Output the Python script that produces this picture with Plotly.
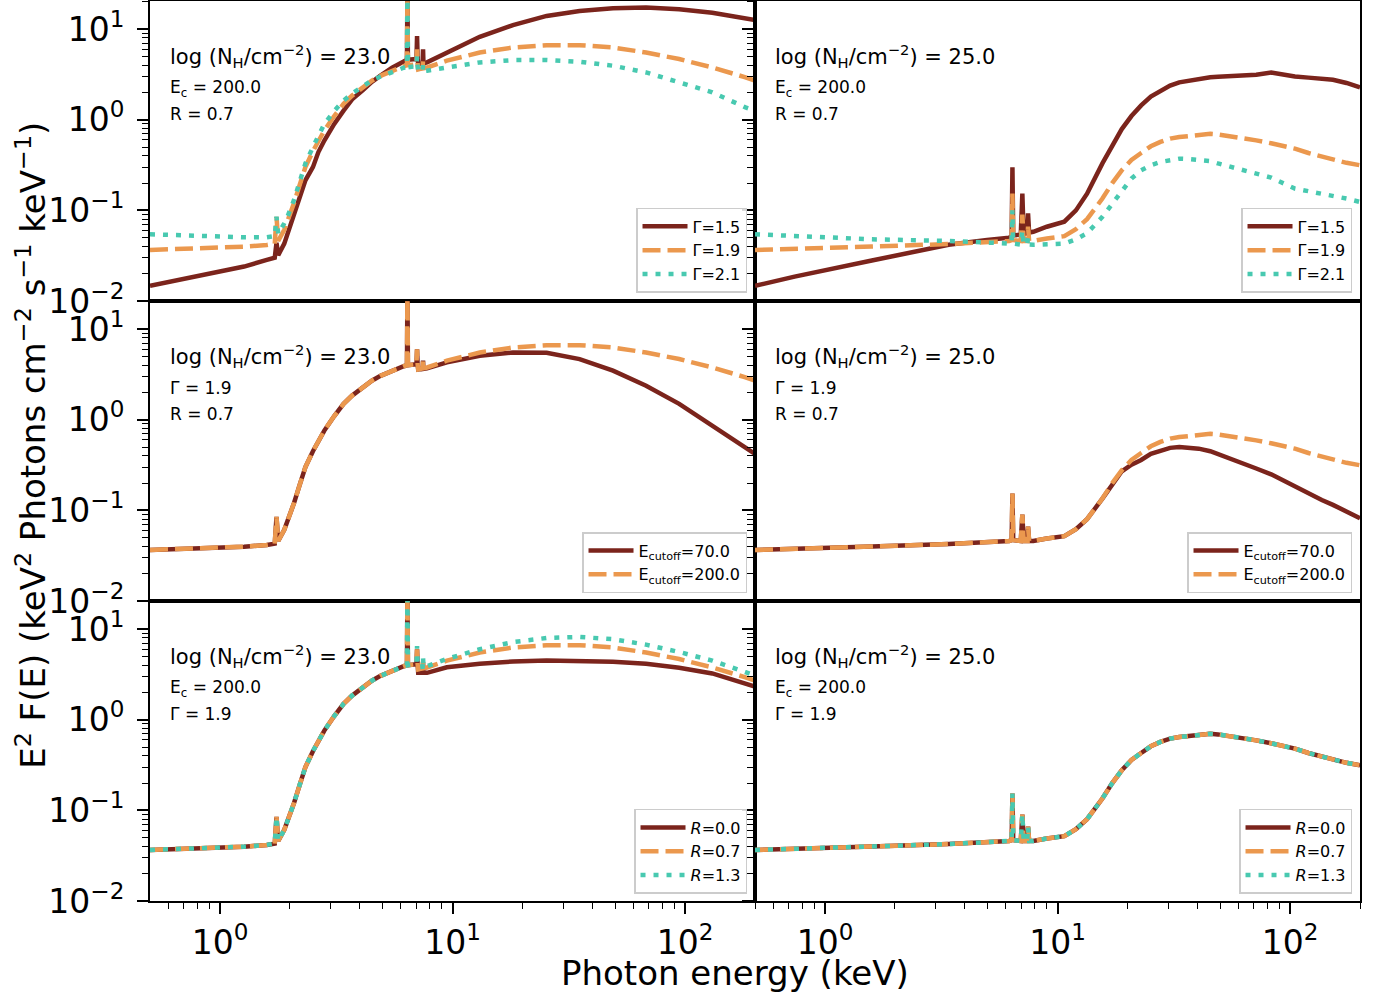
import plotly.graph_objects as go
from plotly.subplots import make_subplots

# ---------------- data ----------------
# energy grid for log(NH)=23 spectra (keV)
E23 = [0.5, 0.8, 1.27, 1.59, 1.72, 1.75, 1.78, 1.89, 1.95, 2.08, 2.2, 2.33, 2.51, 2.65, 2.81, 3.1, 3.4, 3.7,
       4.12, 4.5, 4.9, 5.5, 6.17, 6.37, 6.4, 6.43, 7.0, 7.04, 7.08, 7.12, 7.44, 7.47, 7.5, 7.77, 9.46,
       13.1, 18.2, 25.4, 35.2, 49, 68, 94.4, 131, 182, 200]

G15_23 = [0.0147, 0.019, 0.024, 0.0284, 0.030, 0.044, 0.032, 0.043, 0.055, 0.093, 0.14, 0.215, 0.30, 0.44, 0.59, 0.90, 1.26, 1.68,
          2.13, 2.62, 3.07, 3.75, 4.4, 4.6, 30, 4.6, 4.7, 8.4, 4.8, 4.1, 4.2, 6.0, 4.2, 4.3, 5.53,
          8.23, 11.1, 14.0, 15.9, 17.0, 17.3, 16.6, 15.2, 13.4, 12.6]
G19_23 = [0.0366, 0.038, 0.0398, 0.0416, 0.043, 0.085, 0.046, 0.061, 0.075, 0.12, 0.19, 0.30, 0.45, 0.58, 0.76, 1.1, 1.50, 1.85,
          2.32, 2.7, 3.05, 3.5, 3.9, 4.0, 30, 4.0, 4.1, 6.0, 4.1, 3.6, 3.7, 4.6, 3.7, 3.78, 4.49,
          5.53, 6.28, 6.66, 6.66, 6.28, 5.53, 4.68, 3.78, 2.94, 2.70]
G21_23 = [0.0545, 0.052, 0.0505, 0.0505, 0.052, 0.085, 0.055, 0.072, 0.085, 0.13, 0.21, 0.33, 0.50, 0.68, 0.90, 1.25, 1.63, 1.95,
          2.38, 2.72, 3.0, 3.4, 3.75, 3.8, 35, 3.8, 3.9, 5.0, 3.9, 3.4, 3.45, 4.0, 3.45, 3.48, 3.78,
          4.3, 4.56, 4.56, 4.37, 3.95, 3.33, 2.59, 2.01, 1.37, 1.26]
EC70_23 = [0.0366, 0.038, 0.0398, 0.0416, 0.043, 0.085, 0.046, 0.061, 0.075, 0.12, 0.19, 0.30, 0.45, 0.58, 0.76, 1.1, 1.50, 1.85,
           2.32, 2.7, 3.05, 3.5, 3.9, 4.0, 30, 4.0, 4.1, 6.0, 4.1, 3.6, 3.65, 4.5, 3.65, 3.7, 4.3,
           5.09, 5.53, 5.5, 4.68, 3.48, 2.38, 1.5, 0.865, 0.50, 0.42]
R00_23 = [0.0366, 0.038, 0.0398, 0.0416, 0.043, 0.085, 0.046, 0.061, 0.075, 0.12, 0.19, 0.30, 0.45, 0.58, 0.76, 1.1, 1.50, 1.85,
          2.32, 2.7, 3.05, 3.5, 3.9, 4.0, 30, 4.0, 4.1, 6.0, 4.1, 3.3, 3.3, 4.3, 3.3, 3.3, 3.8,
          4.15, 4.4, 4.5, 4.49, 4.37, 4.15, 3.75, 3.25, 2.55, 2.32]
R13_23 = [0.0366, 0.038, 0.0398, 0.0416, 0.043, 0.085, 0.046, 0.061, 0.075, 0.12, 0.19, 0.30, 0.45, 0.58, 0.76, 1.1, 1.50, 1.85,
          2.32, 2.7, 3.05, 3.5, 3.9, 4.0, 35, 4.0, 4.2, 6.5, 4.2, 3.8, 3.85, 4.9, 3.85, 3.9, 4.7,
          6.0, 7.2, 8.0, 8.2, 7.76, 6.75, 5.6, 4.5, 3.35, 3.07]

# energy grid for log(NH)=25 spectra (keV)
E25 = [0.5, 0.74, 1.59, 3.4, 4.98, 6.2, 6.35, 6.4, 6.45, 6.95, 7.06, 7.15, 7.4, 7.47, 7.55, 7.87,
       9.0, 10.7, 12.0, 13.4, 15.6, 17.2, 18.9, 20.8, 22.9, 25.2, 27.7, 30.5, 33.4, 37, 40.5, 45.4, 49,
       60, 71.6, 83, 105, 120, 137, 153, 175, 200]

G15_25 = [0.0147, 0.0186, 0.028, 0.0417, 0.047, 0.050, 0.052, 0.30, 0.053, 0.054, 0.153, 0.055, 0.056, 0.093, 0.057, 0.058,
          0.066, 0.075, 0.10, 0.153, 0.33, 0.52, 0.79, 1.1, 1.44, 1.8, 2.10, 2.38, 2.59, 2.72, 2.8, 2.95, 2.99,
          3.08, 3.15, 3.33, 3.0, 2.92, 2.85, 2.76, 2.55, 2.28]
G19_25 = [0.0366, 0.0375, 0.040, 0.0425, 0.044, 0.046, 0.047, 0.153, 0.047, 0.046, 0.090, 0.046, 0.046, 0.066, 0.046, 0.046,
          0.049, 0.052, 0.062, 0.080, 0.135, 0.20, 0.277, 0.36, 0.43, 0.51, 0.57, 0.62, 0.645, 0.665, 0.68, 0.70, 0.69,
          0.64, 0.593, 0.55, 0.48, 0.43, 0.39, 0.36, 0.335, 0.315]
G21_25 = [0.0545, 0.052, 0.048, 0.046, 0.044, 0.043, 0.043, 0.10, 0.043, 0.042, 0.060, 0.042, 0.042, 0.050, 0.042, 0.0417,
          0.042, 0.043, 0.048, 0.056, 0.085, 0.12, 0.167, 0.225, 0.277, 0.315, 0.342, 0.36, 0.372, 0.368, 0.36, 0.35, 0.33,
          0.29, 0.255, 0.23, 0.174, 0.163, 0.155, 0.147, 0.135, 0.124]
EC70_25 = [0.0366, 0.0375, 0.040, 0.0425, 0.044, 0.046, 0.047, 0.153, 0.047, 0.046, 0.090, 0.046, 0.046, 0.066, 0.046, 0.046,
           0.049, 0.052, 0.062, 0.080, 0.135, 0.195, 0.27, 0.32, 0.36, 0.42, 0.46, 0.49, 0.50, 0.495, 0.48, 0.45, 0.42,
           0.35, 0.29, 0.25, 0.182, 0.155, 0.13, 0.115, 0.098, 0.082]
R00_25 = G19_25
R07_25 = G19_25
R13_25 = G19_25

GAMMA_LABELS = ["Γ=1.5", "Γ=1.9", "Γ=2.1"]
ECUT_LABELS = ["E<sub>cutoff</sub>=70.0", "E<sub>cutoff</sub>=200.0"]
R_LABELS = ["<i>R</i>=0.0", "<i>R</i>=0.7", "<i>R</i>=1.3"]
NH_TEXT = ["log (N<sub>H</sub>/cm<sup>−2</sup>) = 23.0", "log (N<sub>H</sub>/cm<sup>−2</sup>) = 25.0"]
ROW_PARAMS = [["E<sub>c</sub> = 200.0", "R = 0.7"],
              ["Γ = 1.9", "R = 0.7"],
              ["E<sub>c</sub> = 200.0", "Γ = 1.9"]]

Y_TICKS = [0.01, 0.1, 1, 10]
Y_TICKTEXT = ["10<sup>−2</sup>", "10<sup>−1</sup>", "10<sup>0</sup>", "10<sup>1</sup>"]
X_TICKS = [1, 10, 100]
X_TICKTEXT = ["10<sup>0</sup>", "10<sup>1</sup>", "10<sup>2</sup>"]

# ---------------- styles ----------------
C1, C2, C3 = "#7B241C", "#EB984E", "#48C9B0"
LW = 4.5
STY = [dict(color=C1, width=LW), dict(color=C2, width=LW, dash="18px,7px"),
       dict(color=C3, width=LW, dash="5px,8px")]
FONT = "DejaVu Sans"

fig = make_subplots(rows=3, cols=2, shared_xaxes=True, shared_yaxes=True,
                    horizontal_spacing=0, vertical_spacing=0)

panels = [
    (1, 1, E23, [G15_23, G19_23, G21_23], GAMMA_LABELS),
    (1, 2, E25, [G15_25, G19_25, G21_25], GAMMA_LABELS),
    (2, 1, E23, [EC70_23, G19_23], ECUT_LABELS),
    (2, 2, E25, [EC70_25, G19_25], ECUT_LABELS),
    (3, 1, E23, [R00_23, G19_23, R13_23], R_LABELS),
    (3, 2, E25, [R00_25, R07_25, R13_25], R_LABELS),
]

legend_pos = {1: (0.4934, 0.6756), 2: (0.9934, 0.6756),
              3: (0.4934, 0.3422), 4: (0.9934, 0.3422),
              5: (0.4934, 0.0078), 6: (0.9934, 0.0078)}

annotations = []
for (r, c, E, series, labels) in panels:
    idx = (r - 1) * 2 + c
    lg = "legend" if idx == 1 else f"legend{idx}"
    for k, (ys, lab) in enumerate(zip(series, labels)):
        fig.add_trace(go.Scatter(x=E, y=ys, mode="lines", name=lab, line=STY[k],
                                 legend=lg, showlegend=True), row=r, col=c)
    fig.layout[lg] = dict(x=legend_pos[idx][0], y=legend_pos[idx][1], xanchor="right", yanchor="bottom",
                          bgcolor="rgba(255,255,255,0.85)", bordercolor="#cccccc", borderwidth=1.5,
                          font=dict(family=FONT, size=16, color="black"), itemwidth=45,
                          tracegroupgap=0)
    xr = "x domain" if idx == 1 else f"x{idx} domain"
    yr = "y domain" if idx == 1 else f"y{idx} domain"
    annotations.append(dict(text=NH_TEXT[c - 1], xref=xr, yref=yr, x=0.03, y=0.817,
                            xanchor="left", yanchor="middle", showarrow=False,
                            font=dict(family=FONT, size=21, color="black")))
    annotations.append(dict(text=ROW_PARAMS[r - 1][0], xref=xr, yref=yr, x=0.03, y=0.71,
                            xanchor="left", yanchor="middle", showarrow=False,
                            font=dict(family=FONT, size=17, color="black")))
    annotations.append(dict(text=ROW_PARAMS[r - 1][1], xref=xr, yref=yr, x=0.03, y=0.623,
                            xanchor="left", yanchor="middle", showarrow=False,
                            font=dict(family=FONT, size=17, color="black")))

annotations.append(dict(text="E<sup>2</sup> F(E) (keV<sup>2</sup> Photons cm<sup>−2</sup> s<sup>−1</sup> keV<sup>−1</sup>)",
                        xref="paper", yref="paper", x=-0.099, y=0.506, textangle=-90,
                        xanchor="center", yanchor="middle", showarrow=False,
                        font=dict(family=FONT, size=34, color="black")))
annotations.append(dict(text="Photon energy (keV)", xref="paper", yref="paper", x=0.4835, y=-0.08,
                        xanchor="center", yanchor="middle", showarrow=False,
                        font=dict(family=FONT, size=34, color="black")))

minor_y = [m * 10 ** d for d in (-2, -1, 0, 1) for m in range(2, 10)]
minor_x = [0.6, 0.7, 0.8, 0.9] + [m * 10 ** d for d in (0, 1) for m in range(2, 10)] + [200]

fig.update_yaxes(type="log", range=[-2, 1.311], tickvals=Y_TICKS, ticktext=Y_TICKTEXT,
                 ticks="outside", ticklen=11, tickwidth=1.5, tickcolor="black",
                 showline=True, mirror=True, linecolor="black", linewidth=2,
                 showgrid=False, zeroline=False, automargin=False, ticklabelstandoff=6,
                 tickfont=dict(family=FONT, size=33, color="black"),
                 minor=dict(tickvals=minor_y, ticks="outside", ticklen=6, tickwidth=1.2,
                            tickcolor="black", showgrid=False))
fig.update_xaxes(type="log", range=[-0.30103, 2.30103], tickvals=X_TICKS, ticktext=X_TICKTEXT,
                 showline=True, mirror=True, linecolor="black", linewidth=2,
                 showgrid=False, zeroline=False, automargin=False,
                 tickfont=dict(family=FONT, size=33, color="black"))
fig.update_xaxes(ticks="", row=1)
fig.update_xaxes(ticks="", row=2)
fig.update_xaxes(ticks="outside", ticklen=11, tickwidth=1.5, tickcolor="black",
                 minor=dict(tickvals=minor_x, ticks="outside", ticklen=6, tickwidth=1.2,
                            tickcolor="black", showgrid=False), row=3)

fig.update_layout(width=1379, height=997, margin=dict(l=150, r=19, t=1, b=96, autoexpand=False),
                  plot_bgcolor="white", paper_bgcolor="white",
                  font=dict(family=FONT, color="black"),
                  annotations=annotations)

fig.write_html("out.html", config={"displayModeBar": False},
               post_script="document.body.style.margin='0';document.body.style.padding='0';")
